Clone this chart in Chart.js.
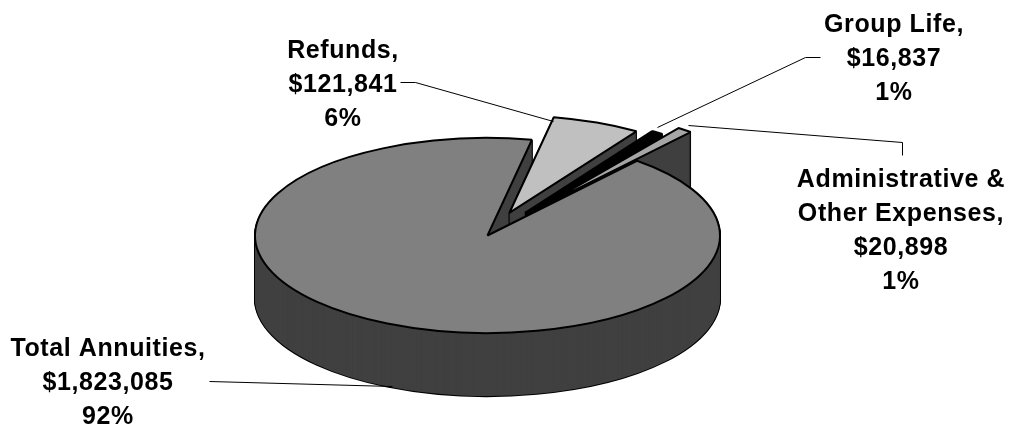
<!DOCTYPE html>
<html>
<head>
<meta charset="utf-8">
<style>
  html, body { margin: 0; padding: 0; background: #fff; }
  canvas { display: block; }
</style>
</head>
<body>
<canvas id="grafico" width="1011" height="428"></canvas>
<script src="https://cdn.jsdelivr.net/npm/chart.js@4"></script>
<script>
// datos
const categories = ["Total Annuities", "Refunds", "Group Life", "Administrative & Other Expenses"];
const amounts = [1823085, 121841, 16837, 20898];
const percents = [92, 6, 1, 1];

// estilos de cada porcion
const topColors = ["#808080", "#c0c0c0", "#000000", "#a6a6a6"];
const wallColors = ["#404040", "#404040", "#000000", "#404040"];
const explode = [0, 58, 66, 87];

// donde va cada etiqueta: lineas de texto, centro x, primera linea base y
const labelSpots = [
  { lines: ["Total Annuities,"], x: 108, y: 356 },
  { lines: ["Refunds,"], x: 343, y: 58 },
  { lines: ["Group Life,"], x: 894, y: 32 },
  { lines: ["Administrative &", "Other Expenses,"], x: 901, y: 187 }
];
const leaders = [
  [[209, 381], [392, 386]],
  [[400, 82], [415, 82], [553, 121]],
  [[657, 127], [805, 57], [820, 57]],
  [[688, 125], [902, 142], [902, 155]]
];

const tilt = 0.4195;
const depth = 63;

// aplasta el circulo y separa la porcion i de su centro
function place(ctx, arc, i, dy) {
  const mid = (arc.startAngle + arc.endAngle) / 2;
  ctx.translate(0, arc.y + dy);
  ctx.scale(1, tilt);
  ctx.translate(Math.cos(mid) * explode[i], Math.sin(mid) * explode[i] - arc.y);
}

// dibuja el arco con otros colores sin tocar sus opciones
function drawArc(ctx, arc, fill, line, width) {
  const base = arc.options;
  arc.options = Object.assign(Object.create(base), { backgroundColor: fill, borderColor: line, borderWidth: width });
  arc.draw(ctx);
  arc.options = base;
}

const pie3d = {
  id: "pie3d",
  beforeDatasetsDraw(chart) {
    const ctx = chart.ctx;
    const arcs = chart.getDatasetMeta(0).data;

    // la linea no se aplasta: se traza con la matriz normal
    const stroke = ctx.stroke;
    ctx.stroke = function () {
      ctx.save();
      ctx.setTransform(1, 0, 0, 1, 0, 0);
      stroke.call(ctx);
      ctx.restore();
    };

    function wall(i) {
      for (let d = depth; d > 0; d--) {
        ctx.save();
        place(ctx, arcs[i], i, d);
        drawArc(ctx, arcs[i], "#000000", "#000000", 2);
        ctx.restore();
      }
      for (let d = depth; d > 0; d--) {
        ctx.save();
        place(ctx, arcs[i], i, d);
        drawArc(ctx, arcs[i], wallColors[i], wallColors[i], 0);
        ctx.restore();
      }
    }
    function top(i) {
      ctx.save();
      place(ctx, arcs[i], i, 0);
      drawArc(ctx, arcs[i], topColors[i], "#000000", 2);
      ctx.restore();
    }

    wall(0);
    [1, 2, 3].forEach(i => { wall(i); top(i); });
    top(0);

    delete ctx.stroke;
    return false;
  },
  afterDraw(chart) {
    const ctx = chart.ctx;
    ctx.save();
    ctx.strokeStyle = "#000";
    ctx.lineWidth = 1;
    leaders.forEach(pts => {
      ctx.beginPath();
      pts.forEach((p, i) => i ? ctx.lineTo(p[0] + .5, p[1] + .5) : ctx.moveTo(p[0] + .5, p[1] + .5));
      ctx.stroke();
    });
    ctx.fillStyle = "#000";
    ctx.font = "bold 25px 'Liberation Sans', Arial, sans-serif";
    ctx.letterSpacing = "0.6px";
    ctx.textAlign = "center";
    labelSpots.forEach((s, i) => {
      const lines = s.lines.concat(["$" + amounts[i].toLocaleString("en-US"), percents[i] + "%"]);
      lines.forEach((t, n) => ctx.fillText(t, s.x, s.y + n * 34));
    });
    ctx.restore();
  }
};

new Chart(document.getElementById("grafico"), {
  type: "pie",
  data: {
    labels: categories,
    datasets: [{
      data: amounts,
      backgroundColor: topColors,
      borderColor: "#000000",
      borderWidth: 2,
      radius: 232.5,
      clip: false
    }]
  },
  options: {
    responsive: false,
    animation: false,
    rotation: 40,
    layout: { padding: { right: 36, top: 43 } },
    plugins: { legend: { display: false }, tooltip: { enabled: false } }
  },
  plugins: [pie3d]
});
</script>
</body>
</html>
